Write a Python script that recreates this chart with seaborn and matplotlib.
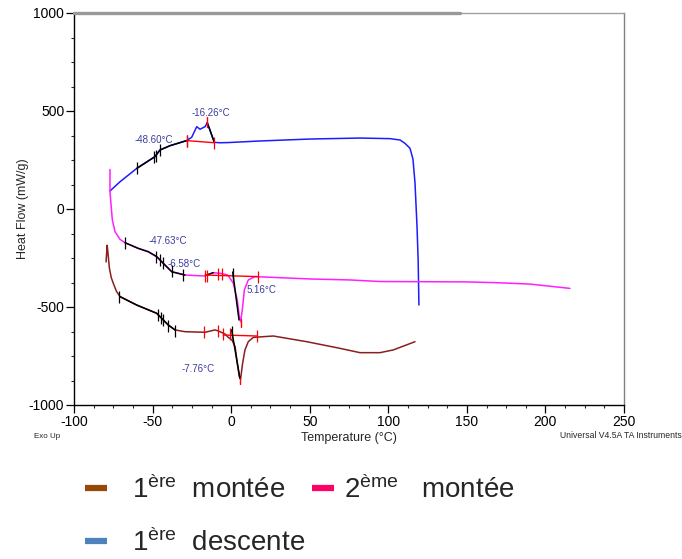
import numpy as np
import pandas as pd
import matplotlib
matplotlib.use("Agg")
import matplotlib.pyplot as plt
import seaborn as sns
from matplotlib.lines import Line2D
from matplotlib.ticker import MultipleLocator

# ---------------- data ----------------
# 1ère descente (cooling, blue)
descente_T = [119.5, 119.0, 118.3, 117.0, 115.7, 113.8, 110.6, 107.5, 101.1, 82.0,
              50.2, 18.4, -1.8, -7.1, -10.7, -13.5, -15.2, -16.6, -19.8, -21.9,
              -25.1, -28.3, -38.9, -45.3, -48.5, -60.1, -70.7, -77.1]
descente_HF = [-490, -260, -92, 133, 255, 310, 335, 352, 359, 362,
               357, 347, 339, 338, 340, 403, 440, 420, 407, 420,
               366, 349, 323, 301, 267, 207, 139, 92]

# 2ème montée (magenta)
montee2_T = [-77.1, -77.1, -76.5, -75.6, -73.9, -70.7, -67.5, -59.1, -52.7, -47.4,
             -43.2, -37.8, -29.4, -16.6, -15.6, -11.4, -7.1, -2.8, -1.8, 1.4,
             3.9, 5.2, 6.0, 7.1, 8.4, 10.9, 15.2, 50.2, 75.6, 94.7,
             150.0, 169.0, 190.0, 215.6]
montee2_HF = [202, 88, 29, -56, -116, -155, -172, -201, -218, -243,
              -277, -320, -337, -342, -337, -325, -328, -335, -340, -379,
              -464, -549, -575, -515, -413, -362, -345, -357, -362, -370,
              -372, -376, -383, -405]

# 1ère montée (brown)
montee1_T = [-79.6, -78.9, -78.3, -77.5, -76.3, -75.0, -73.0, -70.7, -60.1, -47.4,
             -43.2, -40.0, -35.7, -29.4, -16.6, -10.3, -8.2, -3.9, -1.8, 0.5,
             2.5, 3.9, 5.2, 6.0, 7.3, 8.8, 10.9, 14.1, 26.8, 48.1,
             69.3, 82.0, 94.7, 103.2, 117.0]
montee1_HF = [-270, -185, -230, -300, -350, -379, -420, -447, -490, -532,
              -566, -592, -617, -626, -629, -617, -622, -638, -655, -668,
              -702, -787, -855, -868, -787, -719, -677, -655, -648, -677,
              -711, -733, -733, -719, -677]

# analysis overlays (TA Universal Analysis marks)
noir_plages = {"descente": [(-60.5, -28.0), (-15.5, -10.5)],
               "montee2": [(-68.0, -29.0), (-16.0, -11.0)],
               "montee1": [(-71.0, -35.0), (-16.0, -9.0)]}
tangente2_T = [1.0, 5.0]
tangente2_HF = [-322, -566]
tangente1_T = [0.3, 5.6]
tangente1_HF = [-617, -864]
base_desc_T = [-28.3, -10.7]
base_desc_HF = [349, 338]
base2_T = [-16.6, 17.0]
base2_HF = [-337, -345]
base1_T = [-5.0, 16.5]
base1_HF = [-643, -648]
pic_T = [-15.6, -15.6, 6.0, 6.0, 5.6, 5.6]
pic_HF = [420, 470, -560, -600, -860, -895]
pic_id = ["d", "d", "m2", "m2", "m1", "m1"]

noirs_T = [-60.1, -48.8, -47.6, -45.3, -28.3,
           -67.5, -47.6, -45.5, -43.2, -37.8, -30.6, 1.0,
           -71.4, -46.5, -44.8, -43.2, -40.0, -36.0, 0.3]
noirs_HF = [207, 265, 272, 300, 349,
            -172, -243, -262, -277, -318, -337, -330,
            -450, -541, -556, -566, -595, -620, -625]
rouges_T = [-28.3, -10.7, -16.6, -15.4, -8.1, -6.0, 17.0,
            -17.5, -8.5, -5.5, -0.5, 16.5]
rouges_HF = [349, 338, -340, -340, -330, -334, -345,
             -626, -622, -640, -640, -648]

annot_textes = ["-48.60°C", "-16.26°C", "-47.63°C", "-6.58°C", "5.16°C", "-7.76°C"]
annot_T = [-49.5, -12.8, -40.2, -30.0, 19.6, -21.1]
annot_HF = [352, 490, -163, -281, -413, -816]

legende_labels = ["$1^{\\mathrm{ère}}$  montée", "$2^{\\mathrm{ème}}$   montée",
                  "$1^{\\mathrm{ère}}$  descente"]

# ---------------- figure ----------------
sns.set_style("ticks")
plt.rcParams["font.family"] = ["Liberation Sans", "DejaVu Sans"]
plt.rcParams["mathtext.fontset"] = "custom"
plt.rcParams["mathtext.rm"] = "Liberation Sans"
plt.rcParams["mathtext.it"] = "Liberation Sans"
plt.rcParams["axes.unicode_minus"] = False

fig = plt.figure(figsize=(6.82, 5.59), dpi=100)
ax = fig.add_axes([74 / 682, 1 - 405 / 559, 550 / 682, 392 / 559])

df = pd.concat([
    pd.DataFrame({"T": descente_T, "HF": descente_HF, "courbe": "descente"}),
    pd.DataFrame({"T": montee2_T, "HF": montee2_HF, "courbe": "montee2"}),
    pd.DataFrame({"T": montee1_T, "HF": montee1_HF, "courbe": "montee1"}),
], ignore_index=True)
couleurs = {"descente": "#1c1cff", "montee2": "#ff1fff", "montee1": "#8b1e1e"}

sns.lineplot(data=df, x="T", y="HF", hue="courbe", units="courbe", estimator=None,
             sort=False, palette=couleurs, legend=False, lw=1.1, ax=ax)

for c, plages in noir_plages.items():
    for lo, hi in plages:
        sub = df[(df.courbe == c) & (df["T"] >= lo) & (df["T"] <= hi)]
        sns.lineplot(data=sub, x="T", y="HF", estimator=None, sort=False,
                     color="black", lw=1.1, ax=ax)

for bx, by in [(base_desc_T, base_desc_HF), (base2_T, base2_HF), (base1_T, base1_HF)]:
    sns.lineplot(x=bx, y=by, color="red", lw=1.0, sort=False, estimator=None, ax=ax)
for tx, ty in [(tangente2_T, tangente2_HF), (tangente1_T, tangente1_HF)]:
    sns.lineplot(x=tx, y=ty, color="black", lw=1.1, sort=False, estimator=None, ax=ax)
pics = pd.DataFrame({"T": pic_T, "HF": pic_HF, "id": pic_id})
sns.lineplot(data=pics, x="T", y="HF", units="id", estimator=None, sort=False,
             color="red", lw=1.0, ax=ax)

sns.scatterplot(x=noirs_T, y=noirs_HF, marker="|", s=70, color="black",
                linewidth=0.9, ax=ax, zorder=5)
sns.scatterplot(x=rouges_T, y=rouges_HF, marker="|", s=70, color="red",
                linewidth=0.9, ax=ax, zorder=5)

for t, x, y in zip(annot_textes, annot_T, annot_HF):
    ax.text(x, y, t, fontsize=7, color="#3c3ca0", ha="center", va="center")

ax.set_xlim(-100, 250)
ax.set_ylim(-1000, 1000)
ax.xaxis.set_major_locator(MultipleLocator(50))
ax.xaxis.set_minor_locator(MultipleLocator(12.5))
ax.yaxis.set_major_locator(MultipleLocator(500))
ax.yaxis.set_minor_locator(MultipleLocator(125))
ax.tick_params(which="major", direction="out", length=5.5, width=0.9, labelsize=10,
               colors="black", pad=1.5)
ax.tick_params(which="minor", direction="out", length=2.5, width=0.8)

ax.set_xlabel("Temperature (°C)", fontsize=9, labelpad=2)
ax.set_ylabel("Heat Flow (mW/g)", fontsize=9, labelpad=0)

for s in ["left", "bottom"]:
    ax.spines[s].set_color("black")
    ax.spines[s].set_linewidth(1.0)
ax.spines["top"].set_visible(True)
ax.spines["right"].set_visible(True)
ax.spines["top"].set_color("#a0a0a0")
ax.spines["top"].set_linewidth(1.0)
ax.spines["right"].set_color("#808080")
ax.spines["right"].set_linewidth(1.0)
ax.axhline(1000, xmin=0, xmax=0.702, color="#999999", lw=2.4, clip_on=False, zorder=6)

fig.text(34 / 682, 1 - 436 / 559, "Exo Up", fontsize=5.8, ha="left", va="center")
fig.text(560 / 682, 1 - 436 / 559, "Universal V4.5A TA Instruments", fontsize=6.2,
         ha="left", va="center")

leg_kw = dict(loc="upper left", frameon=False, fontsize=20, handlelength=0.8,
              labelspacing=0.9, borderpad=0, borderaxespad=0)
h_brun = Line2D([], [], color="#974806", lw=4.5, solid_capstyle="butt")
h_bleu = Line2D([], [], color="#4f81bd", lw=4.5, solid_capstyle="butt")
h_rose = Line2D([], [], color="#ff0066", lw=4.5, solid_capstyle="butt")
fig.legend([h_brun, h_bleu], [legende_labels[0], legende_labels[2]],
           bbox_to_anchor=(85 / 682, 1 - 475 / 559), handletextpad=0.9, **leg_kw)
fig.legend([h_rose], [legende_labels[1]],
           bbox_to_anchor=(312 / 682, 1 - 475 / 559), handletextpad=0.35, **leg_kw)

fig.savefig("out.png", dpi=100)
